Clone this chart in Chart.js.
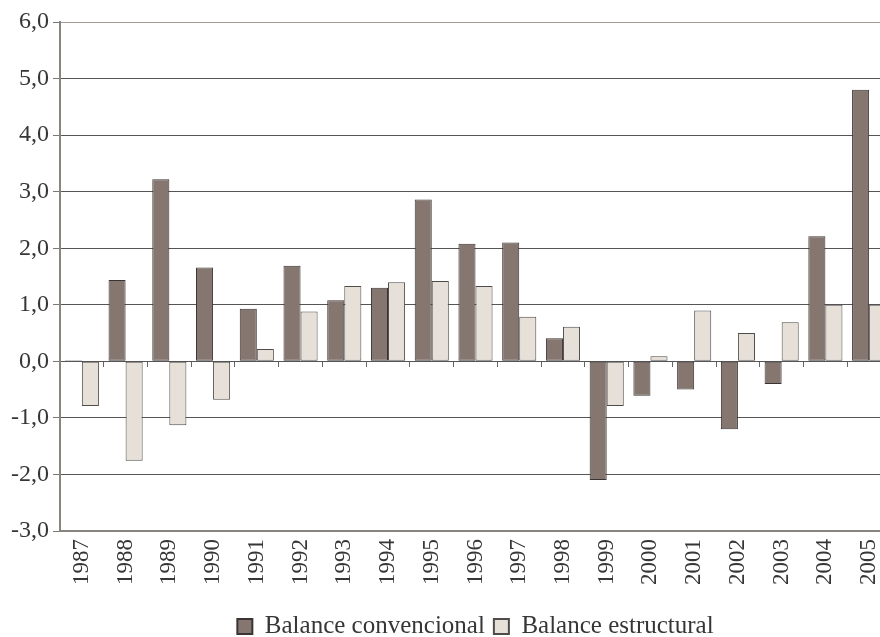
<!DOCTYPE html>
<html>
<head>
<meta charset="utf-8">
<script src="https://cdn.jsdelivr.net/npm/chart.js@4.4.1/dist/chart.umd.min.js"></script>
<style>
  html, body { margin: 0; padding: 0; background: #ffffff; overflow: hidden; }
  #wrap { position: relative; width: 942px; height: 649px; }
</style>
</head>
<body>
<div id="wrap"><canvas id="c"></canvas></div>
<script>
const years = ['1987','1988','1989','1990','1991','1992','1993','1994','1995','1996','1997','1998','1999','2000','2001','2002','2003','2004','2005'];
const balanceConvencional = [0.02, 1.44, 3.22, 1.66, 0.93, 1.69, 1.08, 1.30, 2.86, 2.08, 2.10, 0.41, -2.10, -0.61, -0.50, -1.20, -0.40, 2.21, 4.80];
const balanceEstructural = [-0.79, -1.76, -1.13, -0.68, 0.22, 0.88, 1.33, 1.40, 1.42, 1.33, 0.79, 0.61, -0.79, 0.09, 0.90, 0.50, 0.69, 1.00, 1.00];
const seriesNames = ['Balance convencional', 'Balance estructural'];
const yTicks = { min: -3, max: 6, step: 1 };

const serif = 'Liberation Serif';
const textColor = '#363636';

new Chart(document.getElementById('c'), {
  type: 'bar',
  data: {
    labels: years,
    datasets: [
      {
        label: seriesNames[0],
        data: balanceConvencional,
        backgroundColor: '#85766f',
        borderColor: '#3b3434',
        borderWidth: 1,
        borderSkipped: false,
        xAxisID: 'x',
        yAxisID: 'y'
      },
      {
        label: seriesNames[1],
        data: balanceEstructural,
        backgroundColor: '#e7e0d9',
        borderColor: '#4e4b48',
        borderWidth: 1,
        borderSkipped: false,
        xAxisID: 'x',
        yAxisID: 'y'
      }
    ]
  },
  options: {
    responsive: true,
    maintainAspectRatio: false,
    animation: false,
    events: [],
    categoryPercentage: 0.78,
    barPercentage: 1.0,
    layout: { padding: { top: 22, left: 7, right: 51, bottom: 0 } },
    plugins: {
      tooltip: { enabled: false },
      legend: {
        position: 'bottom',
        fullSize: false,
        labels: {
          font: { family: serif, size: 25 },
          color: textColor,
          boxWidth: 15,
          boxHeight: 15,
          padding: 9,
          generateLabels: (chart) => {
            const items = Chart.defaults.plugins.legend.labels.generateLabels(chart);
            items.forEach(it => { it.lineWidth = 2; });
            return items;
          }
        }
      }
    },
    scales: {
      x: {
        type: 'category',
        position: 'bottom',
        offset: true,
        grid: { display: false, drawTicks: false, offset: true },
        border: { display: true, color: '#8a847e', width: 2 },
        ticks: {
          autoSkip: false,
          maxRotation: 90,
          minRotation: 90,
          padding: 8,
          color: textColor,
          font: { family: serif, size: 23 }
        },
        afterFit: (scale) => { scale.height += 12; }
      },
      x2: {
        type: 'category',
        labels: years,
        position: { y: 0 },
        offset: true,
        grid: {
          display: true,
          offset: true,
          drawOnChartArea: false,
          drawTicks: true,
          tickLength: 6,
          tickColor: '#666666',
          tickWidth: 1
        },
        border: { display: false },
        ticks: { display: false }
      },
      y: {
        min: yTicks.min,
        max: yTicks.max,
        grid: {
          color: (ctx) => (ctx.tick && ctx.tick.value === yTicks.max) ? '#a69b95' : '#555555',
          lineWidth: 1,
          drawTicks: true,
          tickLength: 7,
          tickColor: '#777777'
        },
        border: { display: true, color: '#8a847e', width: 2 },
        ticks: {
          stepSize: yTicks.step,
          padding: 4,
          color: textColor,
          font: { family: serif, size: 24 },
          callback: (v) => Number(v).toFixed(1).replace('.', ',')
        }
      }
    }
  }
});
</script>
</body>
</html>
